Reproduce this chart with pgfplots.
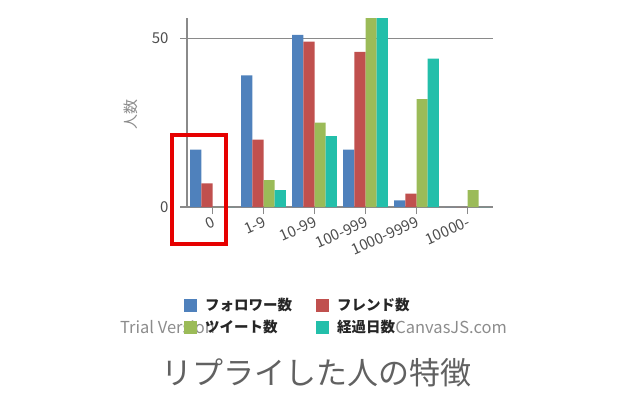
\documentclass[border=0pt]{standalone}
\usepackage{fontspec}
\setmainfont{Noto Sans CJK JP}
\usepackage{pgfplots}
\pgfplotsset{compat=1.18}
\definecolor{cA}{HTML}{4F81BC}
\definecolor{cB}{HTML}{C0504E}
\definecolor{cC}{HTML}{9BBB58}
\definecolor{cD}{HTML}{23BFAA}
\definecolor{axgray}{HTML}{8A8A8A}
\begin{document}
\begin{tikzpicture}
\useasboundingbox (0,0) rectangle (643pt,-410pt);
% watermark (under the legend)
\node[anchor=west, inner sep=0, text=black!45, font=\fontsize{16.5}{18}\selectfont] at (120pt,-327pt) {Trial Version};
\node[anchor=east, inner sep=0, text=black!45, font=\fontsize{16.5}{18}\selectfont] at (507pt,-327pt) {CanvasJS.com};
\begin{axis}[
    at={(187pt,-207pt)}, anchor=south west,
    width=306pt, height=189pt, scale only axis,
    ybar=0pt, bar width=0.22,
    xmin=-0.5, xmax=5.5,
    ymin=0, ymax=56,
    xtick={0,1,2,3,4,5},
    xticklabels={0,1-9,10-99,100-999,1000-9999,10000-},
    ytick={0,50},
    axis x line=bottom, axis y line=left,
    axis line style={-, draw=axgray, line width=1.3pt},
    ymajorgrids=true,
    grid style={draw=axgray, line width=1.3pt},
    tick align=outside, major tick length=7pt,
    tick style={draw=axgray, line width=1.3pt},
    /pgf/number format/assume math mode=true,
    ticklabel style={font=\fontsize{15}{17}\selectfont, text=black!70},
    yticklabel style={xshift=-8pt},
    xticklabel style={rotate=24, anchor=north east, xshift=2pt, yshift=2pt},
    ylabel={人数},
    ylabel style={at={(axis description cs:-0.183,0.49)}, anchor=center,
        font=\fontsize{15}{17}\selectfont, text=black!45},
    legend image code/.code={\fill[#1] (0pt,-6.5pt) rectangle (13pt,6.5pt); \path (19pt,0pt);},
    legend columns=2,
    legend cell align=left,
    legend style={at={(axis description cs:-0.02,-0.46)}, anchor=north west,
        draw=none, fill=none, row sep=4pt,
        font=\bfseries\fontsize{14.5}{17}\selectfont, text=black!85,
        /tikz/every even column/.append style={column sep=22pt}},
]
\addplot[fill=cA, draw=none] coordinates {(0,17) (1,39) (2,51) (3,17) (4,2) (5,0)};
\addplot[fill=cB, draw=none] coordinates {(0,7) (1,20) (2,49) (3,46) (4,4) (5,0)};
\addplot[fill=cC, draw=none] coordinates {(0,0) (1,8) (2,25) (3,56) (4,32) (5,5)};
\addplot[fill=cD, draw=none] coordinates {(0,0) (1,5) (2,21) (3,56) (4,44) (5,0)};
\legend{フォロワー数, フレンド数, ツイート数, 経過日数}
\end{axis}
% highlight box
\draw[draw={rgb,255:red,230;green,0;blue,0}, line width=4pt] (172pt,-134.7pt) rectangle (225.7pt,-244pt);
% title
\node[text=black!62, font=\fontsize{31}{36}\selectfont] at (316pt,-373pt) {リプライした人の特徴};
\end{tikzpicture}
\end{document}
